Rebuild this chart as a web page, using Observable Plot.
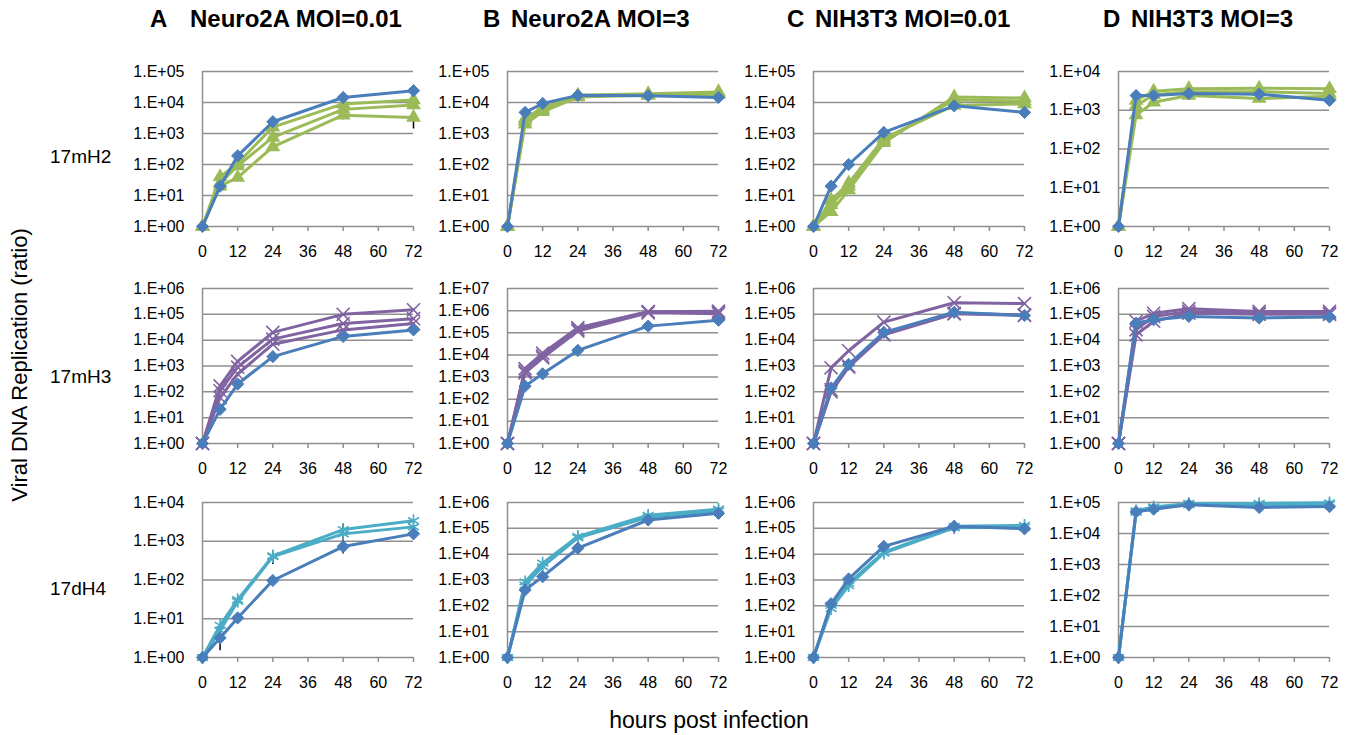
<!DOCTYPE html>
<html>
<head>
<meta charset="utf-8">
<script src="https://cdn.jsdelivr.net/npm/d3@7"></script>
<script src="https://cdn.jsdelivr.net/npm/@observablehq/plot@0.6"></script>
<style>
  html, body { margin: 0; padding: 0; background: #fff; }
  #root { position: relative; width: 1356px; height: 735px; overflow: hidden; font-family: "Liberation Sans", Arial, sans-serif; color: #000; }
  .abs { position: absolute; white-space: pre; }
  .title { font-weight: bold; font-size: 24px; }
  .rowlab { font-size: 19px; }
</style>
</head>
<body>
<div id="root"></div>
<script>
// ---------- data ----------
const hours = [0, 6, 12, 24, 48, 72];
const xTicks = [0, 12, 24, 36, 48, 60, 72];
const columnLetters = ["A", "B", "C", "D"];
const columnTitles = ["Neuro2A MOI=0.01", "Neuro2A MOI=3", "NIH3T3 MOI=0.01", "NIH3T3 MOI=3"];
const rowLabels = ["17mH2", "17mH3", "17dH4"];
const yAxisTitle = "Viral DNA Replication (ratio)";
const xAxisTitle = "hours post infection";

// top decade exponent of each panel's y axis (rows x columns)
const row1TopExp = [5, 5, 5, 4];
const row2TopExp = [6, 7, 6, 6];
const row3TopExp = [4, 6, 6, 5];

// Row 1: 17mH2 (wild type blue diamonds, mutants green triangles)
const A1_wt = [1, 20, 190, 2400, 14500, 24000];
const A1_mut = [[1, 40, 110, 1600, 9000, 12000], [1, 25, 90, 750, 6000, 8300], [1, 20, 38, 370, 3900, 3300]];
const B1_wt = [1, 4800, 9300, 17000, 16500, 14500];
const B1_mut = [[1, 3000, 7000, 17000, 19000, 22000], [1, 2000, 5000, 15000, 17000, 18000], [1, 2500, 6000, 16000, 18000, 20000]];
const C1_wt = [1, 20, 100, 1080, 7800, 4800];
const C1_mut = [[1, 3, 15, 500, 15000, 14000], [1, 5, 20, 600, 12000, 11000], [1, 7, 25, 700, 8000, 9000]];
const D1_wt = [1, 2400, 2400, 2700, 2600, 1800];
const D1_mut = [[1, 1800, 3100, 3600, 3700, 3600], [1, 1300, 2500, 3000, 3000, 2700], [1, 750, 1600, 2400, 2000, 2300]];

// Row 2: 17mH3 (mutants purple crosses)
const A2_wt = [1, 21, 200, 2300, 14000, 25000];
const A2_mut = [[1, 170, 1500, 20000, 100000, 150000], [1, 110, 900, 11000, 44000, 68000], [1, 60, 490, 7000, 25000, 44000]];
const B2_wt = [1, 390, 1400, 16000, 200000, 370000];
const B2_mut = [[1, 2400, 12000, 170000, 890000, 950000], [1, 1550, 7400, 120000, 800000, 720000], [1, 1850, 9000, 140000, 900000, 850000]];
const C2_wt = [1, 140, 1150, 20000, 120000, 90000];
const C2_mut = [[1, 850, 3900, 50000, 280000, 260000], [1, 120, 1000, 17000, 110000, 95000], [1, 100, 900, 16000, 105000, 90000]];
const D2_wt = [1, 46000, 62000, 83000, 72000, 79000];
const D2_mut = [[1, 54000, 110000, 165000, 130000, 130000], [1, 25000, 83000, 130000, 110000, 110000], [1, 16000, 54000, 110000, 100000, 100000]];

// Row 3: 17dH4 (mutants cyan asterisks)
const A3_wt = [1, 3.2, 10.5, 97, 730, 1550];
const A3_mut = [[1, 6.8, 31, 420, 2000, 3400], [1, 5, 28, 400, 1550, 2350]];
const B3_wt = [1, 410, 1350, 17000, 210000, 380000];
const B3_mut = [[1, 850, 4500, 49000, 320000, 550000], [1, 630, 3300, 43000, 270000, 470000]];
const C3_wt = [1, 120, 1100, 20000, 120000, 96000];
const C3_mut = [[1, 105, 740, 12000, 120000, 130000], [1, 78, 600, 11000, 105000, 110000]];
const D3_wt = [1, 50000, 61000, 84000, 69000, 74000];
const D3_mut = [[1, 54000, 72000, 93000, 93000, 98000], [1, 48000, 66000, 84000, 84000, 86000]];

// error bars [hour, low, high]
const A1_err = [[12, 28, 40], [48, 2800, 4000], [72, 1400, 3300]];
const A3_err = [[6, 1.5, 3.2], [24, 250, 420], [48, 470, 2800]];

// ---------- styling ----------
const blue = "#4a7ebb";
const rowColors = ["#9bbb59", "#8064a2", "#4bacc6"];
const rowSymbols = ["triangle", "times", "asterisk"];
const gridColor = "#8f8f8f";

const colLeft = [202, 507, 813, 1118];
const rowTop = [71, 288, 502];
const PW = 211, PH = 155;
const ML = 80, MR = 20, MT = 12, MB = 40;

const root = document.getElementById("root");

function fmtExp(d) {
  const e = Math.round(Math.log10(d));
  return "1.E+" + String(e).padStart(2, "0");
}

function panel(row, col, topExp, wt, muts, errs) {
  const yTicks = d3.range(0, topExp + 1).map(e => Math.pow(10, e));
  const mutRows = [];
  muts.forEach((arr, i) => arr.forEach((v, j) => mutRows.push({s: i, t: hours[j], v})));
  const wtRows = wt.map((v, j) => ({t: hours[j], v}));
  const errRows = (errs || []).map(([t, lo, hi]) => ({t, lo, hi}));
  const color = rowColors[row];
  const symbol = rowSymbols[row];
  const filled = symbol === "triangle";
  const plot = Plot.plot({
    width: ML + PW + MR,
    height: MT + PH + MB,
    marginLeft: ML, marginRight: MR, marginTop: MT, marginBottom: MB,
    style: {fontFamily: "'Liberation Sans', Arial, sans-serif", fontSize: "16px", color: "black", background: "transparent", overflow: "visible"},
    x: {domain: [0, 72]},
    y: {type: "log", domain: [1, Math.pow(10, topExp)]},
    marks: [
      Plot.ruleY(yTicks, {stroke: gridColor, strokeWidth: 1.5}),
      Plot.ruleX([0], {stroke: gridColor, strokeWidth: 1.5}),
      Plot.axisX({ticks: xTicks, tickSize: 5, tickPadding: 14, stroke: gridColor, strokeWidth: 1.5, fill: "black", tickFormat: d => String(d), label: null, fontSize: 16}),
      Plot.axisY({ticks: yTicks, tickSize: 0, tickPadding: 18, tickFormat: fmtExp, label: null, fill: "black", fontSize: 16}),
      Plot.ruleX(errRows, {x: "t", y1: "lo", y2: "hi", stroke: "black", strokeWidth: 1.5}),
      Plot.line(mutRows, {x: "t", y: "v", z: "s", stroke: color, strokeWidth: 3}),
      Plot.dot(mutRows, filled
        ? {x: "t", y: "v", symbol, fill: color, r: 5.5}
        : {x: "t", y: "v", symbol, stroke: color, strokeWidth: 1.6, r: 6}),
      Plot.line(wtRows, {x: "t", y: "v", stroke: blue, strokeWidth: 3}),
      Plot.dot(wtRows, {x: "t", y: "v", symbol: "diamond2", fill: blue, stroke: blue, strokeWidth: 1, r: 5.5})
    ]
  });
  plot.style.position = "absolute";
  plot.style.left = (colLeft[col] - ML) + "px";
  plot.style.top = (rowTop[row] - MT) + "px";
  root.appendChild(plot);
}

const rowsData = [
  [[A1_wt, A1_mut, A1_err], [B1_wt, B1_mut], [C1_wt, C1_mut], [D1_wt, D1_mut]],
  [[A2_wt, A2_mut], [B2_wt, B2_mut], [C2_wt, C2_mut], [D2_wt, D2_mut]],
  [[A3_wt, A3_mut, A3_err], [B3_wt, B3_mut], [C3_wt, C3_mut], [D3_wt, D3_mut]]
];
const topExps = [row1TopExp, row2TopExp, row3TopExp];
rowsData.forEach((r, ri) => r.forEach(([wt, muts, errs], ci) => panel(ri, ci, topExps[ri][ci], wt, muts, errs)));

// ---------- text ----------
function addText(text, cls, left, top, extra) {
  const d = document.createElement("div");
  d.className = "abs " + cls;
  d.textContent = text;
  d.style.left = left + "px";
  d.style.top = top + "px";
  if (extra) Object.assign(d.style, extra);
  root.appendChild(d);
  return d;
}
const letterLeft = [150, 483, 787, 1103];
const titleLeft = [190, 511, 815, 1131];
columnLetters.forEach((L, i) => {
  addText(L, "title", letterLeft[i], 5);
  addText(columnTitles[i], "title", titleLeft[i], 5);
});
const rowLabelTop = [146, 366, 578];
rowLabels.forEach((t, i) => addText(t, "rowlab", 50, rowLabelTop[i]));
addText(yAxisTitle, "", 20, 365, {fontSize: "22px", transform: "translate(-50%, -50%) rotate(-90deg)"});
addText(xAxisTitle, "", 709, 720, {fontSize: "23px", transform: "translate(-50%, -50%)"});
</script>
</body>
</html>
